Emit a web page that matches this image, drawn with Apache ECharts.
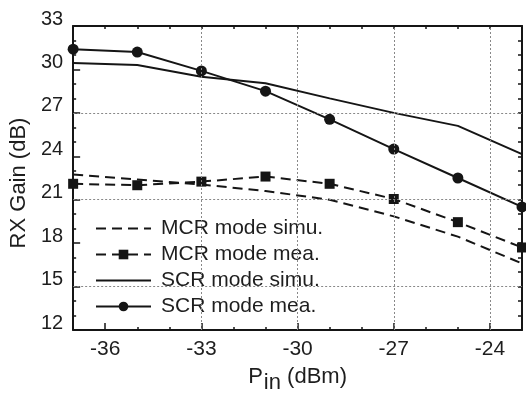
<!DOCTYPE html>
<html>
<head>
<meta charset="utf-8">
<script src="https://cdn.jsdelivr.net/npm/echarts@6/dist/echarts.min.js"></script>
<style>
  html, body { margin: 0; padding: 0; background: #fff; }
  #chart { width: 526px; height: 399px; }
</style>
</head>
<body>
<div id="chart"></div>
<script>
// input power (dBm) at each measured point
const pinValues = [-37, -35, -33, -31, -29, -27, -25, -23];
// RX gain (dB)
const mcrSimu = [22.75, 22.4, 22.05, 21.6, 21.0, 19.85, 18.45, 16.6];
const mcrMea = [22.1, 22.0, 22.25, 22.6, 22.1, 21.05, 19.45, 17.7];
const scrSimu = [30.45, 30.3, 29.5, 29.05, 28.0, 27.0, 26.1, 24.15];
const scrMea = [31.4, 31.2, 29.9, 28.5, 26.55, 24.5, 22.5, 20.5];

const xMajor = [-36, -33, -30, -27, -24];
const yMajor = [12, 15, 18, 21, 24, 27, 30, 33];
const xGrid = [-33, -30, -27, -24];
const yGrid = [15, 21, 27];

const FONT = 'Liberation Sans, Arial, sans-serif';
const INK = '#151515';
const TXT = '#1e1e1e';

const pairs = ys => pinValues.map((x, i) => [x, ys[i]]);

const chart = echarts.init(document.getElementById('chart'));

const baseX = {
  type: 'value', min: -37, max: -23, interval: 1,
  splitLine: { show: false }
};
const baseY = {
  type: 'value', min: 12, max: 33, interval: 1,
  splitLine: { show: false }
};
// simu curves have no markers, keep the legend icon a plain line
const noMark = { color: 'transparent', borderColor: 'transparent', borderWidth: 0 };

chart.setOption({
  animation: false,
  backgroundColor: '#fff',
  grid: { left: 71, right: 4, top: 26, bottom: 67 },
  legend: {
    orient: 'vertical',
    left: 93,
    top: 205,
    itemWidth: 55,
    itemHeight: 12,
    itemGap: 5,
    padding: [13, 10, 6, 2],
    backgroundColor: '#fff',
    textStyle: { fontFamily: FONT, fontSize: 21, color: TXT, padding: [0, 0, 0, 5] },
    data: ['MCR mode simu.', 'MCR mode mea.', 'SCR mode simu.', 'SCR mode mea.']
  },
  xAxis: [
    {
      ...baseX,
      position: 'bottom',
      name: '{p|P}{s|in}{u| (dBm)}',
      nameLocation: 'middle',
      nameGap: 30,
      nameTextStyle: {
        rich: {
          p: { fontFamily: FONT, fontSize: 22, color: TXT },
          s: { fontFamily: FONT, fontSize: 22, color: TXT, verticalAlign: 'bottom', padding: [12, 0, 0, 1] },
          u: { fontFamily: FONT, fontSize: 22, color: TXT }
        }
      },
      axisLine: { lineStyle: { color: INK, width: 2 } },
      axisTick: { inside: true, length: 3, lineStyle: { color: INK, width: 1.5 } },
      axisLabel: {
        margin: 9,
        fontFamily: FONT, fontSize: 21, color: TXT,
        formatter: v => (xMajor.includes(v) ? String(v) : '')
      }
    },
    {
      ...baseX,
      position: 'bottom',
      axisLine: { show: false },
      axisTick: { inside: true, length: 7, customValues: xMajor, lineStyle: { color: INK, width: 1.5 } },
      axisLabel: { show: false }
    },
    {
      ...baseX,
      position: 'top',
      axisLine: { lineStyle: { color: INK, width: 2 } },
      axisTick: { inside: true, length: 3, lineStyle: { color: INK, width: 1.5 } },
      axisLabel: { show: false }
    }
  ],
  yAxis: [
    {
      ...baseY,
      position: 'left',
      name: 'RX Gain (dB)',
      nameLocation: 'middle',
      nameGap: 36,
      nameTextStyle: { fontFamily: FONT, fontSize: 22, color: TXT, padding: [0, 10, 0, 0] },
      axisLine: { lineStyle: { color: INK, width: 2 } },
      axisTick: { inside: true, length: 3, lineStyle: { color: INK, width: 1.5 } },
      axisLabel: {
        margin: 10,
        verticalAlign: 'bottom',
        lineHeight: 14,
        fontFamily: FONT, fontSize: 20, color: TXT,
        formatter: v => (yMajor.includes(v) ? String(v) : '')
      }
    },
    {
      ...baseY,
      position: 'left',
      axisLine: { show: false },
      axisTick: { inside: true, length: 7, customValues: yMajor, lineStyle: { color: INK, width: 1.5 } },
      axisLabel: { show: false }
    },
    {
      ...baseY,
      position: 'right',
      axisLine: { lineStyle: { color: INK, width: 2 } },
      axisTick: { inside: true, length: 4, lineStyle: { color: INK, width: 1.5 } },
      axisLabel: { show: false }
    }
  ],
  series: [
    {
      name: 'grid',
      type: 'line',
      data: [],
      silent: true,
      markLine: {
        silent: true,
        symbol: 'none',
        label: { show: false },
        lineStyle: { color: '#888', type: [2, 2], width: 1 },
        data: xGrid.map(v => ({ xAxis: v })).concat(yGrid.map(v => ({ yAxis: v })))
      }
    },
    {
      name: 'MCR mode simu.',
      type: 'line',
      data: pairs(mcrSimu),
      symbol: 'none',
      lineStyle: { color: INK, width: 2, type: [10, 6] },
      itemStyle: noMark
    },
    {
      name: 'MCR mode mea.',
      type: 'line',
      data: pairs(mcrMea),
      symbol: 'rect',
      symbolSize: 10,
      lineStyle: { color: INK, width: 2, type: [10, 6] },
      itemStyle: { color: INK }
    },
    {
      name: 'SCR mode simu.',
      type: 'line',
      data: pairs(scrSimu),
      symbol: 'none',
      lineStyle: { color: INK, width: 2 },
      itemStyle: noMark
    },
    {
      name: 'SCR mode mea.',
      type: 'line',
      data: pairs(scrMea),
      symbol: 'circle',
      symbolSize: 11,
      lineStyle: { color: INK, width: 2 },
      itemStyle: { color: INK }
    }
  ]
});
</script>
</body>
</html>
